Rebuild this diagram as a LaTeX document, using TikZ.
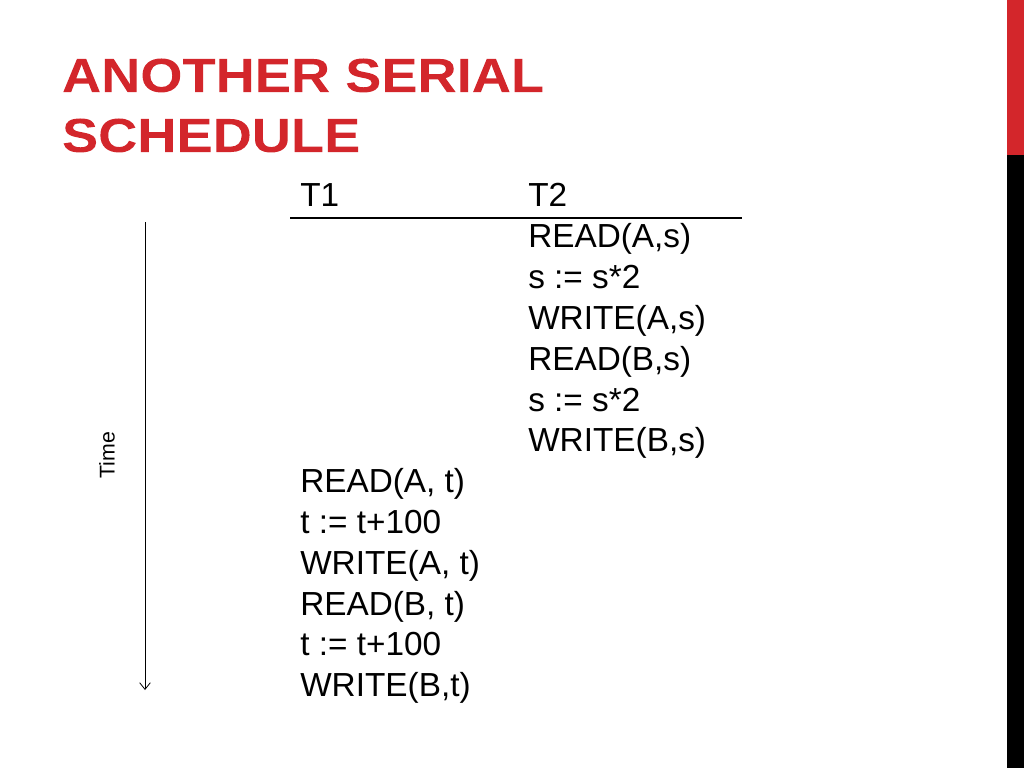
\documentclass[tikz,border=0pt]{standalone}
\usepackage{fontspec}
\usetikzlibrary{arrows.meta}
\setmainfont{Liberation Sans}
\definecolor{titred}{HTML}{D3262B}
\begin{document}
\begin{tikzpicture}[x=0.75pt,y=-0.75pt,
  txt/.style={anchor=base west,inner sep=0pt,font=\fontsize{25}{30}\selectfont},
  ttl/.style={anchor=base west,inner sep=0pt,text=titred,xscale=1.13,font=\bfseries\fontsize{36}{36}\selectfont,draw=titred,draw opacity=0,line width=0pt}]
\useasboundingbox (0,0) rectangle (1024,768);
\fill[white] (0,0) rectangle (1024,768);
\fill[titred] (1007,0) rectangle (1024,155);
\fill[black] (1007,155) rectangle (1024,768);
\node[ttl] (t1) at (62,92) {\addfontfeature{FakeBold=1.5}ANOTHER SERIAL};
\node[ttl] (t2) at (62,152) {\addfontfeature{FakeBold=1.5}SCHEDULE};
\node[txt] (h1) at (300,206) {T1};
\node[txt] (h2) at (528,206) {T2};
\coordinate (la) at (290,218); \coordinate (lb) at (742,218);
\draw[line width=0.9pt] (la) -- (lb);
\foreach \t [count=\i] in {READ(A{,}s), s := s*2, WRITE(A{,}s), READ(B{,}s), s := s*2, WRITE(B{,}s)}
  \node[txt] at (528,{207+40.8*\i}) {\t};
\foreach \t [count=\i from 7] in {READ(A{,} t), t := t+100, WRITE(A{,} t), READ(B{,} t), t := t+100, WRITE(B{,}t)}
  \node[txt] at (300,{207+40.8*\i}) {\t};
\coordinate (a1) at (145,222); \coordinate (a2) at (145,690);
\draw[-{Straight Barb[length=5pt,width=8pt]},line width=0.6pt] (a1) -- (a2);
\node[rotate=90,font=\fontsize{16}{18}\selectfont] (time) at (107,455) {Time};
\end{tikzpicture}
\end{document}
